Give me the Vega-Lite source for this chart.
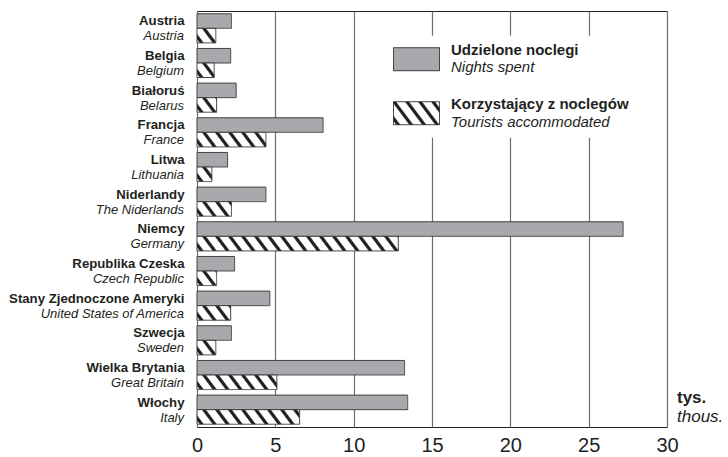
{
  "$schema": "https://vega.github.io/schema/vega-lite/v6.json",
  "width": 470,
  "height": 416,
  "autosize": "none",
  "padding": {"left": 197, "top": 11, "right": 61, "bottom": 30},
  "data": {"values": [
    {"country_pl": "Austria", "country_en": "Austria", "series_pl": "Udzielone noclegi", "series_en": "Nights spent", "value": 2.2},
    {"country_pl": "Austria", "country_en": "Austria", "series_pl": "Korzystający z noclegów", "series_en": "Tourists accommodated", "value": 1.2},
    {"country_pl": "Belgia", "country_en": "Belgium", "series_pl": "Udzielone noclegi", "series_en": "Nights spent", "value": 2.15},
    {"country_pl": "Belgia", "country_en": "Belgium", "series_pl": "Korzystający z noclegów", "series_en": "Tourists accommodated", "value": 1.1},
    {"country_pl": "Białoruś", "country_en": "Belarus", "series_pl": "Udzielone noclegi", "series_en": "Nights spent", "value": 2.5},
    {"country_pl": "Białoruś", "country_en": "Belarus", "series_pl": "Korzystający z noclegów", "series_en": "Tourists accommodated", "value": 1.25},
    {"country_pl": "Francja", "country_en": "France", "series_pl": "Udzielone noclegi", "series_en": "Nights spent", "value": 8.05},
    {"country_pl": "Francja", "country_en": "France", "series_pl": "Korzystający z noclegów", "series_en": "Tourists accommodated", "value": 4.4},
    {"country_pl": "Litwa", "country_en": "Lithuania", "series_pl": "Udzielone noclegi", "series_en": "Nights spent", "value": 1.95},
    {"country_pl": "Litwa", "country_en": "Lithuania", "series_pl": "Korzystający z noclegów", "series_en": "Tourists accommodated", "value": 0.95},
    {"country_pl": "Niderlandy", "country_en": "The Niderlands", "series_pl": "Udzielone noclegi", "series_en": "Nights spent", "value": 4.4},
    {"country_pl": "Niderlandy", "country_en": "The Niderlands", "series_pl": "Korzystający z noclegów", "series_en": "Tourists accommodated", "value": 2.2},
    {"country_pl": "Niemcy", "country_en": "Germany", "series_pl": "Udzielone noclegi", "series_en": "Nights spent", "value": 27.2},
    {"country_pl": "Niemcy", "country_en": "Germany", "series_pl": "Korzystający z noclegów", "series_en": "Tourists accommodated", "value": 12.85},
    {"country_pl": "Republika Czeska", "country_en": "Czech Republic", "series_pl": "Udzielone noclegi", "series_en": "Nights spent", "value": 2.4},
    {"country_pl": "Republika Czeska", "country_en": "Czech Republic", "series_pl": "Korzystający z noclegów", "series_en": "Tourists accommodated", "value": 1.25},
    {"country_pl": "Stany Zjednoczone Ameryki", "country_en": "United States of America", "series_pl": "Udzielone noclegi", "series_en": "Nights spent", "value": 4.65},
    {"country_pl": "Stany Zjednoczone Ameryki", "country_en": "United States of America", "series_pl": "Korzystający z noclegów", "series_en": "Tourists accommodated", "value": 2.15},
    {"country_pl": "Szwecja", "country_en": "Sweden", "series_pl": "Udzielone noclegi", "series_en": "Nights spent", "value": 2.2},
    {"country_pl": "Szwecja", "country_en": "Sweden", "series_pl": "Korzystający z noclegów", "series_en": "Tourists accommodated", "value": 1.2},
    {"country_pl": "Wielka Brytania", "country_en": "Great Britain", "series_pl": "Udzielone noclegi", "series_en": "Nights spent", "value": 13.25},
    {"country_pl": "Wielka Brytania", "country_en": "Great Britain", "series_pl": "Korzystający z noclegów", "series_en": "Tourists accommodated", "value": 5.1},
    {"country_pl": "Włochy", "country_en": "Italy", "series_pl": "Udzielone noclegi", "series_en": "Nights spent", "value": 13.45},
    {"country_pl": "Włochy", "country_en": "Italy", "series_pl": "Korzystający z noclegów", "series_en": "Tourists accommodated", "value": 6.55}
  ]},
  "layer": [
    {
      "mark": {"type": "bar", "strokeWidth": 1},
      "encoding": {
        "y": {
          "field": "country_pl", "type": "nominal", "sort": null,
          "scale": {"paddingInner": 0.16, "paddingOuter": 0.08},
          "axis": {"title": null, "ticks": false, "domain": false, "grid": false, "labelFontSize": 13.2, "labelFontWeight": "bold", "labelColor": "#231f20", "labelPadding": 13, "labelOffset": -7, "labelLimit": 300}
        },
        "yOffset": {"field": "series_pl", "type": "nominal", "scale": {"domain": ["Udzielone noclegi", "Korzystający z noclegów"]}},
        "x": {
          "field": "value", "type": "quantitative",
          "scale": {"domain": [0, 30], "nice": false},
          "axis": {"title": null, "values": [0, 5, 10, 15, 20, 25, 30], "grid": true, "gridColor": "#6d6e71", "gridWidth": 1.2, "ticks": false, "domain": false, "labelFontSize": 20, "labelColor": "#231f20", "labelPadding": 8, "labelFlush": false}
        },
        "stroke": {
          "field": "series_en", "type": "nominal",
          "scale": {"domain": ["Nights spent", "Tourists accommodated"], "range": ["#414042", "#414042"]},
          "legend": {"orient": "none", "legendX": 190, "legendY": 24.7, "title": null, "symbolType": "M-1,-0.5H1V0.5H-1Z", "symbolSize": 2116, "symbolStrokeWidth": 1, "symbolOpacity": 0, "labelFontSize": 15, "labelFontStyle": "italic", "labelFontWeight": "normal", "labelColor": "#231f20", "labelOffset": 11, "labelLimit": 400, "rowPadding": 20, "padding": 6, "fillColor": "#ffffff",
            "encoding": {"labels": {"dy": {"value": 1.5}}}}
        },
        "strokeDash": {
          "field": "series_pl", "type": "nominal",
          "scale": {"domain": ["Udzielone noclegi", "Korzystający z noclegów"], "range": [[1, 0], [1, 0]]},
          "legend": {"orient": "none", "legendX": 196, "legendY": 24.7, "title": null, "symbolType": "M-1,-0.5H1V0.5H-1Z", "symbolSize": 2116, "symbolStrokeWidth": 1, "symbolStrokeColor": "#231f20", "labelFontSize": 15, "labelFontWeight": "bold", "labelColor": "#231f20", "labelOffset": 11, "labelLimit": 400, "rowPadding": 17, "padding": 0,
            "encoding": {
              "symbols": {
                "fill": {"condition": {"test": "datum.value === 'Korzystający z noclegów'",
                   "value": {"gradient": "linear", "x1": 0, "y1": 1, "x2": 1.2055, "y2": 0.5479, "stops": [
                     {"offset": 0.0316, "color": "#ffffff"}, {"offset": 0.0553, "color": "#231f20"}, {"offset": 0.0949, "color": "#231f20"}, {"offset": 0.1186, "color": "#ffffff"},
                     {"offset": 0.2372, "color": "#ffffff"}, {"offset": 0.2609, "color": "#231f20"}, {"offset": 0.3004, "color": "#231f20"}, {"offset": 0.3241, "color": "#ffffff"},
                     {"offset": 0.4427, "color": "#ffffff"}, {"offset": 0.4664, "color": "#231f20"}, {"offset": 0.5059, "color": "#231f20"}, {"offset": 0.5296, "color": "#ffffff"},
                     {"offset": 0.6482, "color": "#ffffff"}, {"offset": 0.6719, "color": "#231f20"}, {"offset": 0.7115, "color": "#231f20"}, {"offset": 0.7352, "color": "#ffffff"},
                     {"offset": 0.8538, "color": "#ffffff"}, {"offset": 0.8775, "color": "#231f20"}, {"offset": 0.9170, "color": "#231f20"}, {"offset": 0.9407, "color": "#ffffff"}]}},
                  "value": "#a7a9ac"},
                "fillOpacity": {"value": 1},
                "stroke": {"value": "#231f20"},
                "strokeWidth": {"value": 1}
              },
              "labels": {"dy": {"value": -9}}
            }}
        },
        "fill": {
          "condition": [
            {"test": "datum.series_en === 'Tourists accommodated' && (datum.country_en === 'Austria' || datum.country_en === 'Sweden')",
             "value": {"gradient": "linear", "x1": 0, "y1": 1, "x2": 1.182, "y2": 0.3134, "stops": [
               {"offset": 0.0673, "color": "#ffffff"}, {"offset": 0.1178, "color": "#231f20"}, {"offset": 0.2019, "color": "#231f20"}, {"offset": 0.2524, "color": "#ffffff"},
               {"offset": 0.5047, "color": "#ffffff"}, {"offset": 0.5552, "color": "#231f20"}, {"offset": 0.6393, "color": "#231f20"}, {"offset": 0.6898, "color": "#ffffff"},
               {"offset": 0.9421, "color": "#ffffff"}, {"offset": 0.9926, "color": "#231f20"}]}},
            {"test": "datum.series_en === 'Tourists accommodated' && datum.country_en === 'Belgium'",
             "value": {"gradient": "linear", "x1": 0, "y1": 1, "x2": 1.1656, "y2": 0.2613, "stops": [
               {"offset": 0.0710, "color": "#ffffff"}, {"offset": 0.1243, "color": "#231f20"}, {"offset": 0.2131, "color": "#231f20"}, {"offset": 0.2664, "color": "#ffffff"},
               {"offset": 0.5329, "color": "#ffffff"}, {"offset": 0.5861, "color": "#231f20"}, {"offset": 0.6750, "color": "#231f20"}, {"offset": 0.7282, "color": "#ffffff"},
               {"offset": 0.9947, "color": "#ffffff"}]}},
            {"test": "datum.series_en === 'Tourists accommodated' && (datum.country_en === 'Belarus' || datum.country_en === 'Czech Republic')",
             "value": {"gradient": "linear", "x1": 0, "y1": 1, "x2": 1.1881, "y2": 0.3374, "stops": [
               {"offset": 0.0656, "color": "#ffffff"}, {"offset": 0.1148, "color": "#231f20"}, {"offset": 0.1967, "color": "#231f20"}, {"offset": 0.2459, "color": "#ffffff"},
               {"offset": 0.4918, "color": "#ffffff"}, {"offset": 0.5410, "color": "#231f20"}, {"offset": 0.6230, "color": "#231f20"}, {"offset": 0.6721, "color": "#ffffff"},
               {"offset": 0.9180, "color": "#ffffff"}, {"offset": 0.9672, "color": "#231f20"}]}},
            {"test": "datum.series_en === 'Tourists accommodated' && datum.country_en === 'France'",
             "value": {"gradient": "linear", "x1": 0, "y1": 1, "x2": 1.1301, "y2": 0.8210, "stops": [
               {"offset": 0.0251, "color": "#ffffff"}, {"offset": 0.0438, "color": "#231f20"}, {"offset": 0.0751, "color": "#231f20"}, {"offset": 0.0939, "color": "#ffffff"},
               {"offset": 0.1879, "color": "#ffffff"}, {"offset": 0.2066, "color": "#231f20"}, {"offset": 0.2379, "color": "#231f20"}, {"offset": 0.2567, "color": "#ffffff"},
               {"offset": 0.3507, "color": "#ffffff"}, {"offset": 0.3694, "color": "#231f20"}, {"offset": 0.4008, "color": "#231f20"}, {"offset": 0.4195, "color": "#ffffff"},
               {"offset": 0.5135, "color": "#ffffff"}, {"offset": 0.5323, "color": "#231f20"}, {"offset": 0.5636, "color": "#231f20"}, {"offset": 0.5823, "color": "#ffffff"},
               {"offset": 0.6763, "color": "#ffffff"}, {"offset": 0.6951, "color": "#231f20"}, {"offset": 0.7264, "color": "#231f20"}, {"offset": 0.7452, "color": "#ffffff"},
               {"offset": 0.8391, "color": "#ffffff"}, {"offset": 0.8579, "color": "#231f20"}, {"offset": 0.8892, "color": "#231f20"}, {"offset": 0.9080, "color": "#ffffff"}]}},
            {"test": "datum.series_en === 'Tourists accommodated' && datum.country_en === 'Lithuania'",
             "value": {"gradient": "linear", "x1": 0, "y1": 1, "x2": 1.1269, "y2": 0.1730, "stops": [
               {"offset": 0.0775, "color": "#ffffff"}, {"offset": 0.1357, "color": "#231f20"}, {"offset": 0.2326, "color": "#231f20"}, {"offset": 0.2907, "color": "#ffffff"},
               {"offset": 0.5814, "color": "#ffffff"}, {"offset": 0.6395, "color": "#231f20"}, {"offset": 0.7364, "color": "#231f20"}, {"offset": 0.7946, "color": "#ffffff"}]}},
            {"test": "datum.series_en === 'Tourists accommodated' && datum.country_en === 'The Niderlands'",
             "value": {"gradient": "linear", "x1": 0, "y1": 1, "x2": 1.1967, "y2": 0.6209, "stops": [
               {"offset": 0.0441, "color": "#ffffff"}, {"offset": 0.0771, "color": "#231f20"}, {"offset": 0.1322, "color": "#231f20"}, {"offset": 0.1652, "color": "#ffffff"},
               {"offset": 0.3305, "color": "#ffffff"}, {"offset": 0.3635, "color": "#231f20"}, {"offset": 0.4186, "color": "#231f20"}, {"offset": 0.4516, "color": "#ffffff"},
               {"offset": 0.6169, "color": "#ffffff"}, {"offset": 0.6499, "color": "#231f20"}, {"offset": 0.7050, "color": "#231f20"}, {"offset": 0.7380, "color": "#ffffff"},
               {"offset": 0.9033, "color": "#ffffff"}, {"offset": 0.9363, "color": "#231f20"}, {"offset": 0.9914, "color": "#231f20"}]}},
            {"test": "datum.series_en === 'Tourists accommodated' && datum.country_en === 'Germany'",
             "value": {"gradient": "linear", "x1": 0, "y1": 1, "x2": 1.0511, "y2": 0.9430, "stops": [
               {"offset": 0.00942, "color": "#ffffff"}, {"offset": 0.01649, "color": "#231f20"}, {"offset": 0.02827, "color": "#231f20"}, {"offset": 0.03534, "color": "#ffffff"},
               {"offset": 0.07067, "color": "#ffffff"}, {"offset": 0.07774, "color": "#231f20"}, {"offset": 0.08952, "color": "#231f20"}, {"offset": 0.09659, "color": "#ffffff"},
               {"offset": 0.13193, "color": "#ffffff"}, {"offset": 0.13899, "color": "#231f20"}, {"offset": 0.15077, "color": "#231f20"}, {"offset": 0.15784, "color": "#ffffff"},
               {"offset": 0.19318, "color": "#ffffff"}, {"offset": 0.20024, "color": "#231f20"}, {"offset": 0.21202, "color": "#231f20"}, {"offset": 0.21909, "color": "#ffffff"},
               {"offset": 0.25443, "color": "#ffffff"}, {"offset": 0.26149, "color": "#231f20"}, {"offset": 0.27327, "color": "#231f20"}, {"offset": 0.28034, "color": "#ffffff"},
               {"offset": 0.31568, "color": "#ffffff"}, {"offset": 0.32275, "color": "#231f20"}, {"offset": 0.33453, "color": "#231f20"}, {"offset": 0.34159, "color": "#ffffff"},
               {"offset": 0.37693, "color": "#ffffff"}, {"offset": 0.38400, "color": "#231f20"}, {"offset": 0.39578, "color": "#231f20"}, {"offset": 0.40284, "color": "#ffffff"},
               {"offset": 0.43818, "color": "#ffffff"}, {"offset": 0.44525, "color": "#231f20"}, {"offset": 0.45703, "color": "#231f20"}, {"offset": 0.46409, "color": "#ffffff"},
               {"offset": 0.49943, "color": "#ffffff"}, {"offset": 0.50650, "color": "#231f20"}, {"offset": 0.51828, "color": "#231f20"}, {"offset": 0.52535, "color": "#ffffff"},
               {"offset": 0.56068, "color": "#ffffff"}, {"offset": 0.56775, "color": "#231f20"}, {"offset": 0.57953, "color": "#231f20"}, {"offset": 0.58660, "color": "#ffffff"},
               {"offset": 0.62193, "color": "#ffffff"}, {"offset": 0.62900, "color": "#231f20"}, {"offset": 0.64078, "color": "#231f20"}, {"offset": 0.64785, "color": "#ffffff"},
               {"offset": 0.68319, "color": "#ffffff"}, {"offset": 0.69025, "color": "#231f20"}, {"offset": 0.70203, "color": "#231f20"}, {"offset": 0.70910, "color": "#ffffff"},
               {"offset": 0.74444, "color": "#ffffff"}, {"offset": 0.75150, "color": "#231f20"}, {"offset": 0.76328, "color": "#231f20"}, {"offset": 0.77035, "color": "#ffffff"},
               {"offset": 0.80569, "color": "#ffffff"}, {"offset": 0.81276, "color": "#231f20"}, {"offset": 0.82454, "color": "#231f20"}, {"offset": 0.83160, "color": "#ffffff"},
               {"offset": 0.86694, "color": "#ffffff"}, {"offset": 0.87401, "color": "#231f20"}, {"offset": 0.88579, "color": "#231f20"}, {"offset": 0.89285, "color": "#ffffff"},
               {"offset": 0.92819, "color": "#ffffff"}, {"offset": 0.93526, "color": "#231f20"}, {"offset": 0.94704, "color": "#231f20"}, {"offset": 0.95411, "color": "#ffffff"},
               {"offset": 0.98944, "color": "#ffffff"}, {"offset": 0.99651, "color": "#231f20"}]}},
            {"test": "datum.series_en === 'Tourists accommodated' && datum.country_en === 'United States of America'",
             "value": {"gradient": "linear", "x1": 0, "y1": 1, "x2": 1.1983, "y2": 0.6115, "stops": [
               {"offset": 0.0448, "color": "#ffffff"}, {"offset": 0.0785, "color": "#231f20"}, {"offset": 0.1345, "color": "#231f20"}, {"offset": 0.1682, "color": "#ffffff"},
               {"offset": 0.3363, "color": "#ffffff"}, {"offset": 0.3700, "color": "#231f20"}, {"offset": 0.4260, "color": "#231f20"}, {"offset": 0.4596, "color": "#ffffff"},
               {"offset": 0.6278, "color": "#ffffff"}, {"offset": 0.6614, "color": "#231f20"}, {"offset": 0.7175, "color": "#231f20"}, {"offset": 0.7511, "color": "#ffffff"},
               {"offset": 0.9193, "color": "#ffffff"}, {"offset": 0.9529, "color": "#231f20"}]}},
            {"test": "datum.series_en === 'Tourists accommodated' && datum.country_en === 'Great Britain'",
             "value": {"gradient": "linear", "x1": 0, "y1": 1, "x2": 1.1158, "y2": 0.8475, "stops": [
               {"offset": 0.0220, "color": "#ffffff"}, {"offset": 0.0385, "color": "#231f20"}, {"offset": 0.0661, "color": "#231f20"}, {"offset": 0.0826, "color": "#ffffff"},
               {"offset": 0.1652, "color": "#ffffff"}, {"offset": 0.1817, "color": "#231f20"}, {"offset": 0.2092, "color": "#231f20"}, {"offset": 0.2257, "color": "#ffffff"},
               {"offset": 0.3083, "color": "#ffffff"}, {"offset": 0.3248, "color": "#231f20"}, {"offset": 0.3523, "color": "#231f20"}, {"offset": 0.3689, "color": "#ffffff"},
               {"offset": 0.4514, "color": "#ffffff"}, {"offset": 0.4680, "color": "#231f20"}, {"offset": 0.4955, "color": "#231f20"}, {"offset": 0.5120, "color": "#ffffff"},
               {"offset": 0.5946, "color": "#ffffff"}, {"offset": 0.6111, "color": "#231f20"}, {"offset": 0.6386, "color": "#231f20"}, {"offset": 0.6551, "color": "#ffffff"},
               {"offset": 0.7377, "color": "#ffffff"}, {"offset": 0.7542, "color": "#231f20"}, {"offset": 0.7818, "color": "#231f20"}, {"offset": 0.7983, "color": "#ffffff"},
               {"offset": 0.8809, "color": "#ffffff"}, {"offset": 0.8974, "color": "#231f20"}, {"offset": 0.9249, "color": "#231f20"}, {"offset": 0.9414, "color": "#ffffff"}]}},
            {"test": "datum.series_en === 'Tourists accommodated' && datum.country_en === 'Italy'",
             "value": {"gradient": "linear", "x1": 0, "y1": 1, "x2": 1.0940, "y2": 0.8836, "stops": [
               {"offset": 0.0176, "color": "#ffffff"}, {"offset": 0.0308, "color": "#231f20"}, {"offset": 0.0528, "color": "#231f20"}, {"offset": 0.0661, "color": "#ffffff"},
               {"offset": 0.1321, "color": "#ffffff"}, {"offset": 0.1453, "color": "#231f20"}, {"offset": 0.1673, "color": "#231f20"}, {"offset": 0.1806, "color": "#ffffff"},
               {"offset": 0.2466, "color": "#ffffff"}, {"offset": 0.2598, "color": "#231f20"}, {"offset": 0.2818, "color": "#231f20"}, {"offset": 0.2951, "color": "#ffffff"},
               {"offset": 0.3611, "color": "#ffffff"}, {"offset": 0.3743, "color": "#231f20"}, {"offset": 0.3963, "color": "#231f20"}, {"offset": 0.4095, "color": "#ffffff"},
               {"offset": 0.4756, "color": "#ffffff"}, {"offset": 0.4888, "color": "#231f20"}, {"offset": 0.5108, "color": "#231f20"}, {"offset": 0.5240, "color": "#ffffff"},
               {"offset": 0.5901, "color": "#ffffff"}, {"offset": 0.6033, "color": "#231f20"}, {"offset": 0.6253, "color": "#231f20"}, {"offset": 0.6385, "color": "#ffffff"},
               {"offset": 0.7046, "color": "#ffffff"}, {"offset": 0.7178, "color": "#231f20"}, {"offset": 0.7398, "color": "#231f20"}, {"offset": 0.7530, "color": "#ffffff"},
               {"offset": 0.8191, "color": "#ffffff"}, {"offset": 0.8323, "color": "#231f20"}, {"offset": 0.8543, "color": "#231f20"}, {"offset": 0.8675, "color": "#ffffff"},
               {"offset": 0.9336, "color": "#ffffff"}, {"offset": 0.9468, "color": "#231f20"}, {"offset": 0.9688, "color": "#231f20"}, {"offset": 0.9820, "color": "#ffffff"}]}}
          ],
          "field": "series_en", "type": "nominal",
          "sort": ["Nights spent", "Tourists accommodated"],
          "scale": {"range": ["#a7a9ac", "#ffffff"]},
          "legend": null
        }
      }
    },
    {
      "transform": [{"filter": "datum.series_en === 'Nights spent'"}],
      "mark": {"type": "text", "align": "right", "baseline": "middle", "dx": -13, "dy": 8, "fontSize": 13, "fontStyle": "italic", "color": "#231f20"},
      "encoding": {
        "y": {"field": "country_pl", "type": "nominal", "sort": null},
        "x": {"datum": 0, "type": "quantitative"},
        "text": {"field": "country_en"}
      }
    },
    {
      "data": {"values": [{"unit": "tys."}]},
      "mark": {"type": "text", "align": "left", "baseline": "middle", "dx": 10, "dy": -12, "fontSize": 17, "fontWeight": "bold", "color": "#231f20"},
      "encoding": {
        "y": {"datum": "Włochy", "type": "nominal"},
        "x": {"datum": 30, "type": "quantitative"},
        "text": {"field": "unit"}
      }
    },
    {
      "data": {"values": [{"unit": "thous."}]},
      "mark": {"type": "text", "align": "left", "baseline": "middle", "dx": 10, "dy": 7, "fontSize": 17, "fontStyle": "italic", "color": "#231f20"},
      "encoding": {
        "y": {"datum": "Włochy", "type": "nominal"},
        "x": {"datum": 30, "type": "quantitative"},
        "text": {"field": "unit"}
      }
    }
  ],
  "config": {
    "font": "Liberation Sans",
    "view": {"stroke": "#231f20", "strokeWidth": 1},
    "background": "#ffffff"
  }
}
